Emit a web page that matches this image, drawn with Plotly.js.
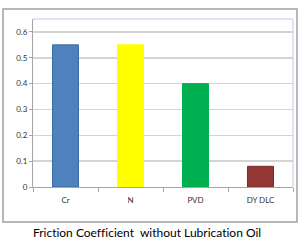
<!DOCTYPE html>
<html><head><meta charset="utf-8">
<script src="https://cdn.plot.ly/plotly-3.0.1.min.js"></script>
<style>html,body{margin:0;padding:0;background:#fff}#c{width:300px;height:250px}#c text{font-variant-ligatures:none;font-feature-settings:"liga" 0,"dlig" 0}</style>
</head><body><div id="c"></div>
<script>
const categories = ["Cr", "N", "PVD", "DY DLC"];
const frictionValues = [0.55, 0.55, 0.40, 0.08];
const barColors = ["#4F81BD", "#FFFF00", "#00B050", "#943634"];
const barEdges = ["#3C6BA3", "#FFFF00", "#00B050", "#7A2A28"];
const yTickVals = [0, 0.1, 0.2, 0.3, 0.4, 0.5, 0.6];
const yTickText = ["0", "0.1", "0.2", "0.3", "0.4", "0.5", "0.6"];
const chartTitle = "Friction Coefficient&nbsp;&nbsp;without Lubrication Oil";

const trace = {
  type: "bar", x: categories, y: frictionValues,
  marker: {color: barColors, line: {color: barEdges, width: 1}},
  hoverinfo: "none"
};
const layout = {
  width: 300, height: 250,
  margin: {l: 33, r: 7, t: 19, b: 63},
  paper_bgcolor: "#ffffff", plot_bgcolor: "#ffffff",
  bargap: 0.6, showlegend: false,
  font: {family: "Lato, Liberation Sans, sans-serif", color: "#404040"},
  xaxis: {
    type: "category", tickson: "boundaries", ticks: "outside", ticklen: 4,
    tickcolor: "#A6A6A6", tickwidth: 1,
    showline: true, linecolor: "#A6A6A6", linewidth: 1,
    showgrid: false, zeroline: false, fixedrange: true,
    ticklabelstandoff: 5,
    tickfont: {family: "Lato, sans-serif", size: 8, color: "#333333"}
  },
  yaxis: {
    range: [0, 0.65], tickvals: yTickVals, ticktext: yTickText,
    ticks: "outside", ticklen: 3, tickcolor: "#A6A6A6",
    showline: true, linecolor: "#A6A6A6", linewidth: 1,
    showgrid: true, gridcolor: "#D4D4D4", gridwidth: 1.5,
    zeroline: false, fixedrange: true,
    tickfont: {family: "Lato, sans-serif", size: 8, color: "#333333"}
  },
  shapes: [
    {type: "line", xref: "paper", yref: "paper", x0: 0, x1: 1, y0: 1, y1: 1,
     line: {color: "#B9CDE5", width: 1}},
    {type: "line", xref: "paper", yref: "paper", x0: 1, x1: 1, y0: 0, y1: 1,
     line: {color: "#B9CDE5", width: 1}},
    {type: "rect", xref: "paper", yref: "paper", x0: -0.1154, x1: 1.0154, y0: -0.2083, y1: 1.0595,
     line: {color: "#A0A0A0", width: 1.5}, layer: "below"}
  ],
  annotations: [
    {text: chartTitle, xref: "paper", yref: "paper", x: 0.438, y: -0.268,
     xanchor: "center", yanchor: "middle", showarrow: false,
     font: {family: "Lato, sans-serif", size: 12, color: "#000000"}}
  ]
};
Plotly.newPlot("c", [trace], layout, {displayModeBar: false, staticPlot: true});
</script></body></html>
